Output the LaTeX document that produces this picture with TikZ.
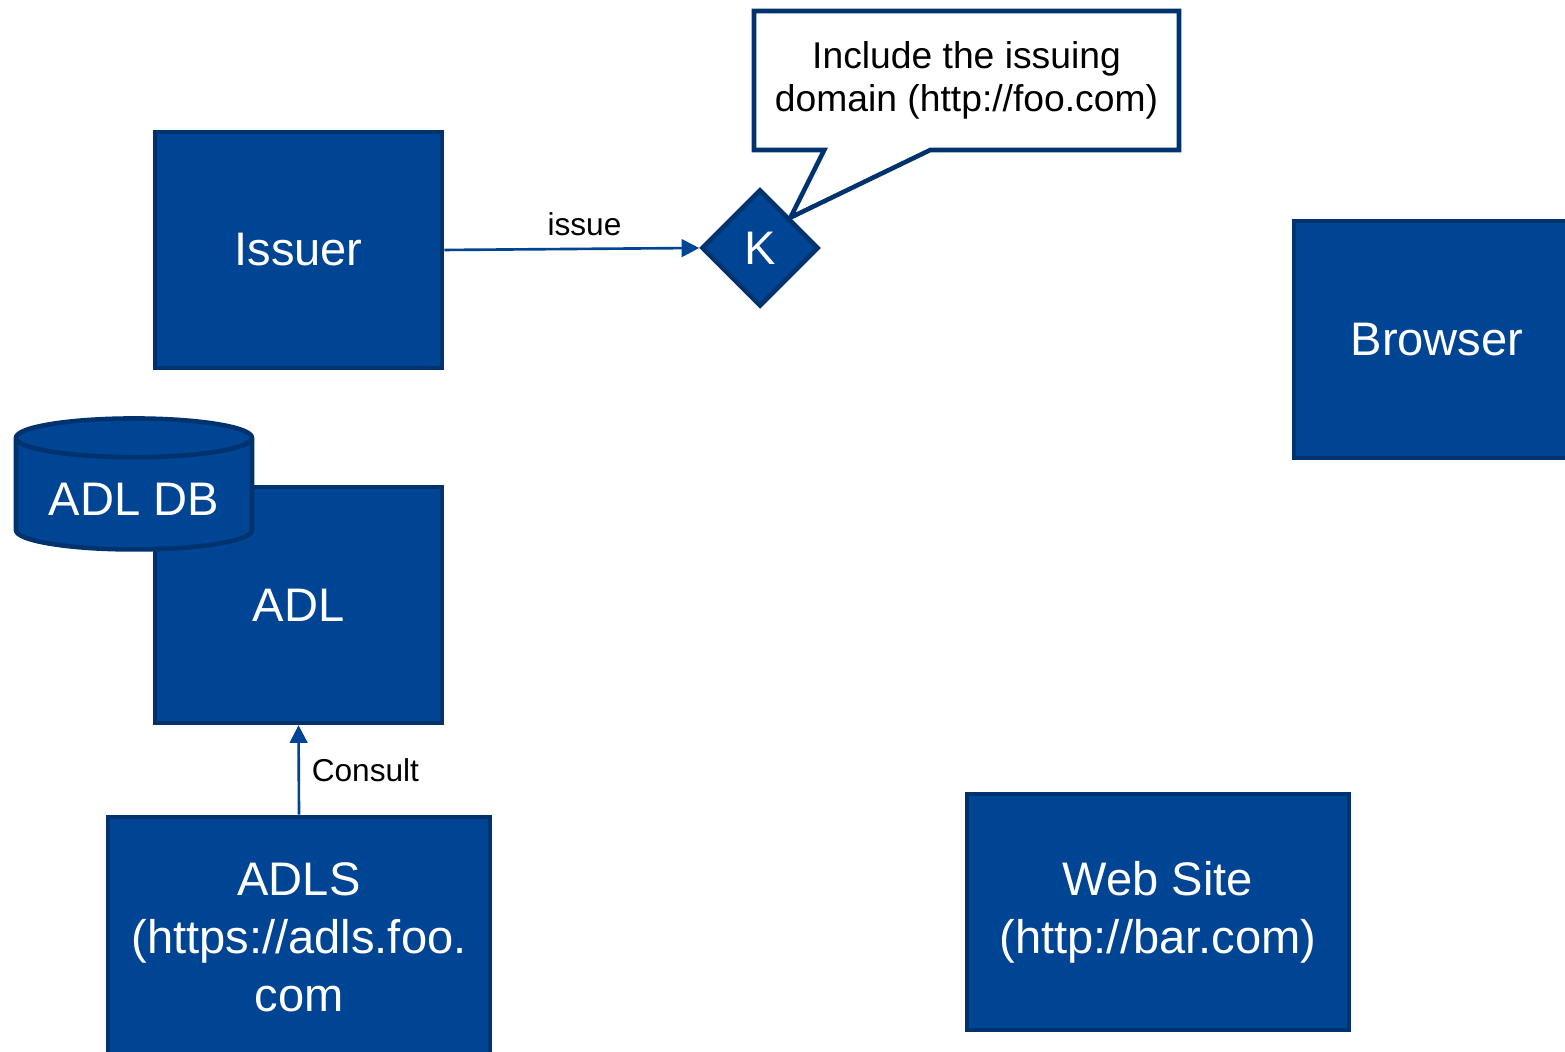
\documentclass[tikz,border=0pt]{standalone}
\usepackage{fontspec}
\setmainfont{Liberation Sans}
\usetikzlibrary{arrows.meta,shapes.geometric,shapes.callouts}
\definecolor{boxc}{RGB}{0,68,148}
\definecolor{edgec}{RGB}{0,50,110}
\definecolor{inkc}{RGB}{0,0,0}

\begin{document}
\begin{tikzpicture}[>={Triangle[length=5pt,width=5pt]},
  blockbox/.style={draw=edgec, fill=boxc, line width=1.3pt, text=white,
    align=center, font=\fontsize{13.4}{16.5}\selectfont,
    minimum width=2.87cm, minimum height=2.36cm},
  link/.style={->, boxc, line width=0.75pt},
  linklabel/.style={inkc, font=\fontsize{9}{11}\selectfont}]
  \useasboundingbox (0,0) rectangle (15.65,10.52);

  % main blocks
  \node[blockbox] (issuer) at (2.985,8.02) {Issuer};
  \node[blockbox] (adl) at (2.985,4.47) {ADL};
  \node[blockbox, minimum width=3.82cm, minimum height=2.40cm] (adls) at (2.99,1.15)
    {ADLS\\(https://adls.foo.\\com};
  \node[blockbox, minimum width=3.82cm] (website) at (11.58,1.40)
    {Web Site\\(http://bar.com)};
  \node[blockbox, minimum width=2.86cm, minimum height=2.37cm] (browser) at (14.37,7.125)
    {Browser};

  % database on top of ADL
  \node[blockbox, cylinder, shape border rotate=90, aspect=0.2,
    minimum width=2.36cm, minimum height=1.31cm] (adldb) at (1.34,5.53) {ADL DB};

  % key
  \node[blockbox, diamond, inner sep=0pt, minimum width=1.17cm, minimum height=1.17cm]
    (key) at (7.60,8.04) {K};

  % callout
  \node[rectangle callout, draw=edgec, fill=white, line width=1.3pt, text=inkc,
    align=center, font=\fontsize{10.6}{12.2}\selectfont,
    minimum width=4.25cm, minimum height=1.39cm, callout pointer width=1.06cm,
    callout absolute pointer={(key.north east)}] (note) at (9.665,9.715)
    {Include the issuing\\domain (http://foo.com)};

  % connectors
  \draw[link] (issuer.east) -- node[linklabel, above, pos=0.55] {issue} (key.west);
  \draw[link] (adls.north) -- node[linklabel, right] {Consult} (adl.south);
\end{tikzpicture}
\end{document}
